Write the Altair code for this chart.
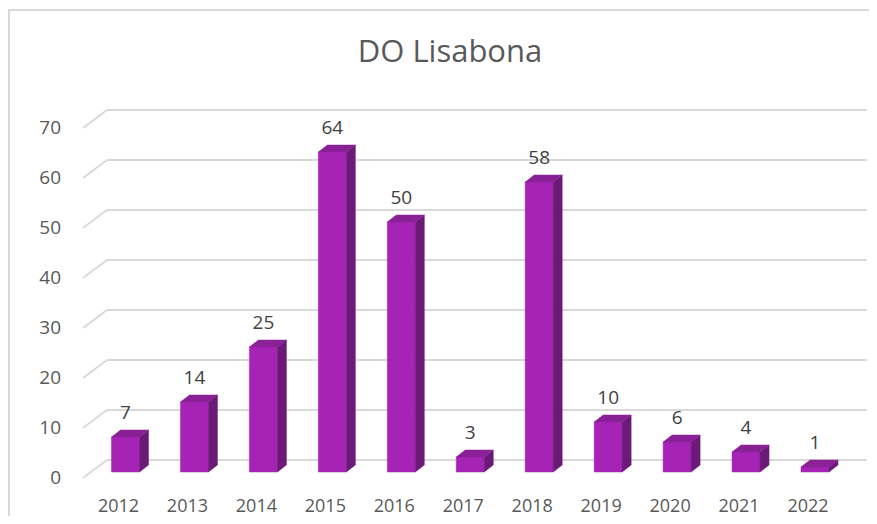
import altair as alt
import pandas as pd

# ---- data ----
years = [2012, 2013, 2014, 2015, 2016, 2017, 2018, 2019, 2020, 2021, 2022]
values = [7, 14, 25, 64, 50, 3, 58, 10, 6, 4, 1]
grid_values = [0, 10, 20, 30, 40, 50, 60, 70]
title_text = "DO Lisabona"

# ---- layout constants ----
W, H = 861, 508
PX = 68.95          # pixels per year
PY = 5.0            # pixels per value unit
X0 = 110.5          # pixel position of first category
Y0 = 464.0          # pixel position of value 0 (bar front base)
x_dom = [years[0] - X0 / PX, years[0] + (W - X0) / PX]
y_dom = [(Y0 - H) / PY, Y0 / PY]
DX = 9 / PX         # depth, horizontal
DY = 7 / PY         # depth, vertical
L_OFF = 7 / PX      # front face left offset from category centre (negative)
R_OFF = 21 / PX     # front face right offset

FRONT = "#A624B5"
SIDE = "#6C1A77"
TOP = "#8A2096"
GRID = "#D9D9D9"
TXT = "#595959"
FONT = "Open Sans"
FS = 19

xs = alt.Scale(domain=x_dom, nice=False, zero=False)
ys = alt.Scale(domain=y_dom, nice=False, zero=False)

bars = pd.DataFrame({"year": years, "value": values})
bars["xl"] = bars["year"] - L_OFF
bars["xr"] = bars["year"] + R_OFF
bars["zero"] = 0.0

side_rows, top_rows = [], []
for y, v in zip(years, values):
    xl, xr = y - L_OFF, y + R_OFF
    side_rows.append({"year": y, "sx": xr, "sy": v, "sy2": 0.0})
    side_rows.append({"year": y, "sx": xr + DX, "sy": v + DY, "sy2": DY})
    top_rows.append({"year": y, "ty": v, "tx": xl, "tx2": xr})
    top_rows.append({"year": y, "ty": v + DY, "tx": xl + DX, "tx2": xr + DX})
side = pd.DataFrame(side_rows)
top = pd.DataFrame(top_rows)
grid = pd.DataFrame({"g": grid_values})

base_bars = alt.Chart(bars)

# gridlines (back) and diagonal floor connectors
grid_back = alt.Chart(grid).mark_rule(color=GRID, strokeWidth=2, yOffset=-12).encode(
    y=alt.Y("g:Q", scale=ys, axis=None),
    x=alt.value(99), x2=alt.value(858.7),
)
grid_diag = alt.Chart(grid).mark_rule(color=GRID, strokeWidth=2, yOffset=6, y2Offset=-12).encode(
    y=alt.Y("g:Q", scale=ys, axis=None), y2="g:Q",
    x=alt.value(75), x2=alt.value(99),
)
ylabels = alt.Chart(grid).mark_text(
    align="right", baseline="middle", font=FONT, fontSize=FS, color=TXT, yOffset=6
).encode(
    y=alt.Y("g:Q", scale=ys, axis=None), x=alt.value(53), text="g:Q"
)

front = base_bars.mark_rect(color=FRONT, stroke=FRONT, strokeWidth=0.5).encode(
    x=alt.X("xl:Q", scale=xs, axis=None), x2="xr:Q",
    y=alt.Y("value:Q", scale=ys, axis=None), y2="zero:Q",
)
side_face = alt.Chart(side).mark_area(color=SIDE, stroke=SIDE, strokeWidth=0.5).encode(
    x=alt.X("sx:Q", scale=xs, axis=None),
    y=alt.Y("sy:Q", scale=ys, axis=None), y2="sy2:Q",
    detail="year:N",
)
top_face = alt.Chart(top).mark_area(color=TOP, stroke=TOP, strokeWidth=0.5, orient="horizontal").encode(
    y=alt.Y("ty:Q", scale=ys, axis=None),
    x=alt.X("tx:Q", scale=xs, axis=None), x2="tx2:Q",
    detail="year:N",
)
value_labels = base_bars.mark_text(
    baseline="middle", align="center", font=FONT, fontSize=FS, color="#404040",
    xOffset=7, yOffset=-24.5
).encode(
    x=alt.X("year:Q", scale=xs, axis=None),
    y=alt.Y("value:Q", scale=ys, axis=None),
    text="value:Q",
)
xlabels = base_bars.mark_text(
    baseline="middle", align="center", font=FONT, fontSize=18, color=TXT
).encode(
    x=alt.X("year:Q", scale=xs, axis=None),
    y=alt.value(498.5),
    text="year:N",
)
title = alt.Chart(pd.DataFrame({"t": [title_text]})).mark_text(
    baseline="middle", align="center", font=FONT, fontSize=31, color=TXT
).encode(x=alt.value(442), y=alt.value(45), text="t:N")

border_top = alt.Chart(pd.DataFrame({"a": [0]})).mark_rule(color=GRID, strokeWidth=2).encode(
    x=alt.value(0), x2=alt.value(W), y=alt.value(2)
)
border_left = alt.Chart(pd.DataFrame({"a": [0]})).mark_rule(color=GRID, strokeWidth=2).encode(
    x=alt.value(1), y=alt.value(1), y2=alt.value(H)
)

chart = alt.layer(
    border_top, border_left, grid_back, grid_diag, ylabels,
    front, side_face, top_face, value_labels, xlabels, title
).properties(
    width=W, height=H,
    autosize=alt.AutoSizeParams(type="none"),
    padding=0,
).configure_view(stroke="transparent")

chart.save("out.html", embed_options={"renderer": "svg", "actions": False})
